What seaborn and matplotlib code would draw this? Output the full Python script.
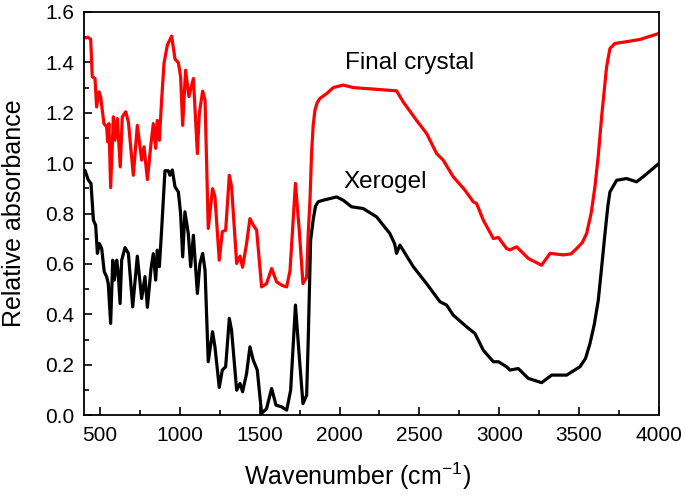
import matplotlib
matplotlib.use("Agg")
import matplotlib.pyplot as plt
from matplotlib.ticker import MultipleLocator
import numpy as np
import pandas as pd
import seaborn as sns

# spectra (wavenumber, relative absorbance)
crystal_wn = [412, 425, 442, 452, 469, 479, 494, 504, 525, 542, 548, 556, 567, 584, 594,
              609, 627, 640, 661, 678, 709, 734, 761, 776, 797, 818, 834, 849, 859, 872,
              886, 901, 922, 949, 970, 991, 1005, 1018, 1036, 1057, 1085, 1110, 1122, 1143,
              1158, 1178, 1205, 1220, 1247, 1266, 1287, 1310, 1324, 1356, 1377, 1393, 1418,
              1439, 1460, 1481, 1512, 1543, 1575, 1606, 1640, 1669, 1690, 1724, 1748, 1771,
              1794, 1804, 1815, 1825, 1835, 1846, 1860, 1877, 1919, 1961, 2023, 2086, 2169,
              2253, 2357, 2399, 2482, 2545, 2608, 2649, 2712, 2785, 2837, 2858, 2900, 2963,
              2995, 3046, 3067, 3109, 3182, 3265, 3318, 3401, 3450, 3484, 3520, 3547, 3575,
              3599, 3620, 3641, 3672, 3693, 3724, 3797, 3881, 4000]
crystal_abs = [1.497, 1.500, 1.491, 1.343, 1.336, 1.223, 1.283, 1.264, 1.157, 1.144, 1.085,
               1.157, 0.903, 1.184, 1.091, 1.177, 0.985, 1.184, 1.204, 1.164, 0.952, 1.150,
               1.012, 1.065, 0.935, 1.068, 1.157, 1.059, 1.170, 1.091, 1.250, 1.396, 1.469,
               1.504, 1.413, 1.399, 1.343, 1.150, 1.369, 1.264, 1.336, 1.038, 1.197, 1.286,
               1.250, 0.741, 0.899, 0.867, 0.615, 0.728, 0.734, 0.952, 0.907, 0.602, 0.631,
               0.587, 0.681, 0.780, 0.754, 0.734, 0.509, 0.522, 0.582, 0.529, 0.515, 0.509,
               0.574, 0.920, 0.732, 0.522, 0.548, 0.721, 0.853, 1.040, 1.150, 1.210, 1.240,
               1.257, 1.276, 1.300, 1.310, 1.300, 1.296, 1.292, 1.287, 1.243, 1.170, 1.118,
               1.038, 1.012, 0.946, 0.893, 0.847, 0.840, 0.774, 0.701, 0.705, 0.661, 0.656,
               0.668, 0.622, 0.595, 0.642, 0.636, 0.640, 0.661, 0.685, 0.721, 0.800, 0.906,
               1.030, 1.184, 1.382, 1.455, 1.475, 1.482, 1.491, 1.515]

xerogel_wn = [406, 427, 444, 459, 473, 484, 496, 511, 527, 542, 552, 567, 580, 590, 605,
              613, 626, 636, 657, 678, 705, 734, 761, 782, 797, 820, 834, 849, 859, 872,
              886, 907, 928, 938, 953, 970, 991, 1005, 1018, 1032, 1053, 1068, 1085, 1110,
              1126, 1143, 1158, 1178, 1205, 1220, 1247, 1266, 1287, 1310, 1324, 1356, 1377,
              1393, 1418, 1439, 1460, 1485, 1512, 1543, 1575, 1602, 1637, 1669, 1694, 1724,
              1748, 1771, 1794, 1804, 1819, 1836, 1850, 1867, 1898, 1982, 2023, 2075, 2148,
              2232, 2315, 2345, 2357, 2378, 2462, 2545, 2629, 2670, 2712, 2795, 2848, 2900,
              2963, 2995, 3046, 3067, 3119, 3182, 3265, 3328, 3422, 3505, 3540, 3568, 3595,
              3620, 3640, 3662, 3680, 3693, 3735, 3797, 3860, 3901, 4000]
xerogel_abs = [0.972, 0.933, 0.919, 0.774, 0.754, 0.642, 0.681, 0.661, 0.569, 0.549, 0.522,
               0.364, 0.615, 0.536, 0.615, 0.575, 0.443, 0.615, 0.665, 0.642, 0.430, 0.631,
               0.463, 0.550, 0.428, 0.583, 0.641, 0.536, 0.655, 0.589, 0.734, 0.970, 0.970,
               0.952, 0.973, 0.906, 0.886, 0.800, 0.628, 0.807, 0.721, 0.589, 0.714, 0.483,
               0.602, 0.642, 0.575, 0.212, 0.331, 0.271, 0.110, 0.179, 0.192, 0.384, 0.337,
               0.099, 0.126, 0.093, 0.165, 0.271, 0.218, 0.179, 0.007, 0.026, 0.106, 0.040,
               0.033, 0.020, 0.099, 0.437, 0.232, 0.046, 0.079, 0.300, 0.694, 0.780, 0.830,
               0.847, 0.853, 0.866, 0.853, 0.827, 0.820, 0.787, 0.721, 0.680, 0.642, 0.675,
               0.589, 0.522, 0.450, 0.437, 0.397, 0.351, 0.324, 0.258, 0.212, 0.212, 0.192,
               0.179, 0.185, 0.146, 0.129, 0.159, 0.159, 0.192, 0.225, 0.284, 0.360, 0.456,
               0.580, 0.721, 0.830, 0.886, 0.932, 0.939, 0.926, 0.946, 0.999]

df = pd.concat([
    pd.DataFrame({"wn": crystal_wn, "abs": crystal_abs, "sample": "Final crystal"}),
    pd.DataFrame({"wn": xerogel_wn, "abs": xerogel_abs, "sample": "Xerogel"}),
])

sns.set_style("ticks")
plt.rcParams['font.family'] = ['Liberation Sans', 'DejaVu Sans']
plt.rcParams['mathtext.fontset'] = 'custom'
plt.rcParams['mathtext.rm'] = 'Liberation Sans'
for k in ['text.color', 'axes.labelcolor', 'xtick.color', 'ytick.color', 'axes.edgecolor']:
    plt.rcParams[k] = 'black'

fig, ax = plt.subplots(figsize=(6.85, 4.99), dpi=100)
fig.subplots_adjust(left=0.1226, right=0.962, top=0.976, bottom=0.168)

sns.lineplot(data=df, x="wn", y="abs", hue="sample", sort=False, estimator=None,
             palette={"Final crystal": "#ff0000", "Xerogel": "#000000"},
             linewidth=2.3, legend=False, ax=ax)

ax.set_xlim(400, 4000)
ax.set_ylim(0, 1.6)
ax.xaxis.set_major_locator(MultipleLocator(500))
ax.xaxis.set_minor_locator(MultipleLocator(250))
ax.yaxis.set_major_locator(MultipleLocator(0.2))
ax.yaxis.set_minor_locator(MultipleLocator(0.1))
ax.yaxis.set_major_formatter(matplotlib.ticker.FormatStrFormatter('%.1f'))
ax.tick_params(which='both', direction='in', labelsize=15, width=1.2, color='black',
               labelcolor='black')
ax.tick_params(which='major', length=6)
ax.tick_params(which='minor', length=3.5)
ax.tick_params(axis='x', pad=8)
ax.tick_params(axis='y', pad=7)
for s in ax.spines.values():
    s.set_linewidth(1.3)
    s.set_color('black')

ax.set_xlabel("Wavenumber (cm$^{\\mathrm{-1}}$)", fontsize=18)
ax.set_ylabel("Relative absorbance", fontsize=18)
ax.xaxis.set_label_coords(0.476, -0.112)
ax.yaxis.set_label_coords(-0.100, 0.5)

ax.text(2034, 1.397, "Final crystal", fontsize=17.5, va='center', ha='left', color='black')
ax.text(2022, 0.925, "Xerogel", fontsize=17.5, va='center', ha='left', color='black')

plt.savefig("out.png", dpi=100)
plt.close()
